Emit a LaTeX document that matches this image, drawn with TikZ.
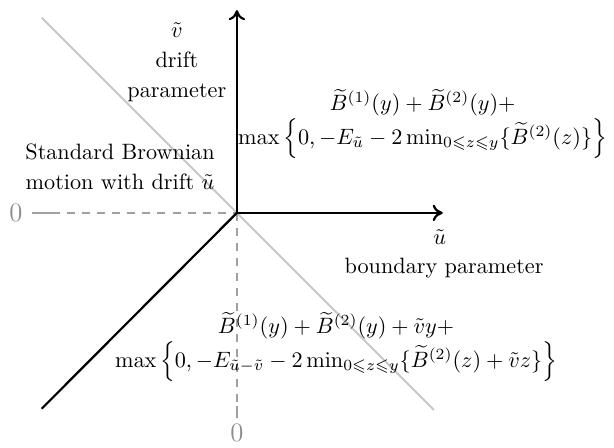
\documentclass[tikz,border=0pt]{standalone}
\usepackage{amsmath,amssymb}
\usepackage{xcolor}
\usepackage{tikz}
\usetikzlibrary{arrows.meta,positioning,calc}
\definecolor{phaseInk}{HTML}{000000}
\definecolor{phaseGuide}{HTML}{A0A0A0}
\definecolor{phaseLine}{HTML}{C8C8C8}
\definecolor{phaseZero}{HTML}{8C8C8C}
\tikzset{
  axisArrow/.style={
    -{To[length=1.6mm,width=2.6mm]},
    line width=1pt,
    draw=phaseInk
  },
  boundaryLine/.style={
    line width=1pt,
    draw=phaseInk
  },
  diagonalLine/.style={
    line width=0.8pt,
    draw=phaseLine
  },
  guideLine/.style={
    dash pattern=on 3.6pt off 3.2pt,
    line width=0.6pt,
    draw=phaseGuide
  },
  guideTick/.style={
    line width=0.6pt,
    draw=phaseGuide
  },
  zeroLabel/.style={
    text=phaseZero,
    font=\large,
    inner sep=1pt
  },
  regionLabel/.style={
    align=center,
    inner sep=1pt
  }
}
\begin{document}
\begin{tikzpicture}
  \useasboundingbox (-3.75,-3.72) rectangle (5.97,3.37);
  % axes and boundaries
  \coordinate (origin) at (0,0);
  \coordinate (vTip) at (0,3.21);
  \coordinate (uTip) at (3.26,0);
  \coordinate (diagTop) at (-3.09,3.09);
  \coordinate (diagBottom) at (3.12,-3.12);
  \coordinate (boundEnd) at (-3.09,-3.10);
  \node[zeroLabel] (zeroU) at (-3.50,0) {$0$};
  \node[zeroLabel] (zeroV) at (0,-3.49) {$0$};
  \coordinate (zeroUStart) at (-3.24,0);
  \coordinate (zeroUTick) at (-2.93,0);
  \coordinate (zeroVTick) at (0,-3.06);
  \coordinate (zeroVEnd) at (0,-3.25);
  \draw[diagonalLine] (diagTop) -- (diagBottom);
  \draw[guideTick] (zeroUStart) -- (zeroUTick);
  \draw[guideLine] (zeroUTick) -- (origin);
  \draw[guideLine] (origin) -- (zeroVTick);
  \draw[guideTick] (zeroVTick) -- (zeroVEnd);
  \draw[boundaryLine] (origin) -- (boundEnd);
  \draw[axisArrow] (origin) -- (vTip);
  \draw[axisArrow] (origin) -- (uTip);
  % labels
  \node (vLabel) at (-0.95,2.90) {$\tilde{v}$};
  \node[regionLabel] (drift) at (-0.95,2.15) {drift\\[1.5pt]parameter};
  \node (uLabel) at (3.21,-0.38) {$\tilde{u}$};
  \node[regionLabel] (boundary) at (3.28,-0.87) {boundary parameter};
  \node[regionLabel] (brownian) at (-1.85,0.73) {Standard Brownian\\[1.5pt]motion with drift $\tilde{u}$};
  \node[regionLabel] (upperFormula) at (2.94,1.41) {$\widetilde{B}^{(1)}(y)+\widetilde{B}^{(2)}(y)+$\\
    $\max\left\{0,-E_{\tilde{u}}-2\min_{0\leqslant z\leqslant y}\{\widetilde{B}^{(2)}(z)\}\right\}$};
  \node[regionLabel] (lowerFormula) at (1.57,-2.12) {$\widetilde{B}^{(1)}(y)+\widetilde{B}^{(2)}(y)+\tilde{v}y+$\\
    $\max\left\{0,-E_{\tilde{u}-\tilde{v}}-2\min_{0\leqslant z\leqslant y}\{\widetilde{B}^{(2)}(z)+\tilde{v}z\}\right\}$};
\end{tikzpicture}
\end{document}
